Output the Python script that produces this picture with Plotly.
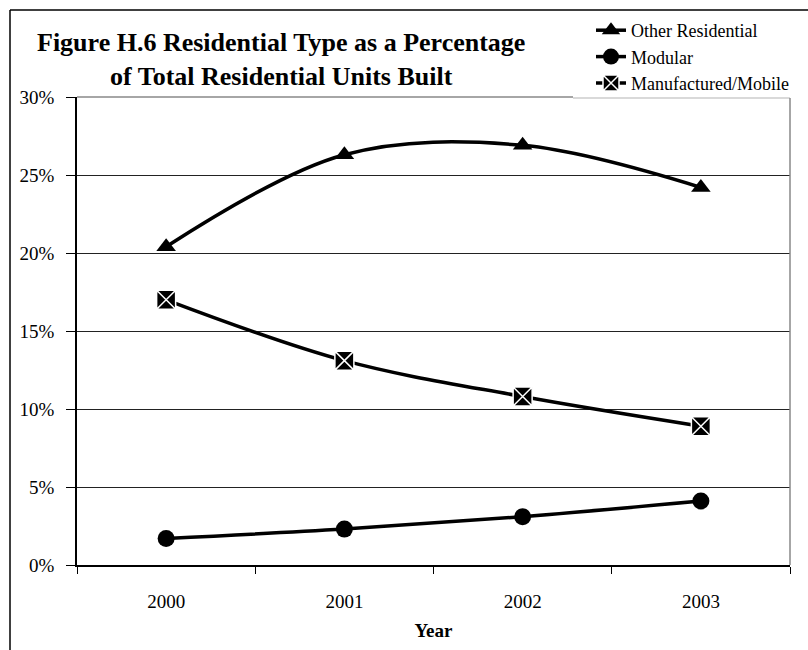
import plotly.graph_objects as go

# Chart data
years = ["2000", "2001", "2002", "2003"]
other_residential = [20.4, 26.3, 26.9, 24.2]
modular = [1.7, 2.3, 3.1, 4.1]
manufactured_mobile = [17.0, 13.1, 10.8, 8.9]
y_ticks = [0, 5, 10, 15, 20, 25, 30]
y_tick_labels = ["0%", "5%", "10%", "15%", "20%", "25%", "30%"]

W, H = 808, 650
L, R, T, B = 77, 18, 97, 85
pw, ph = W - L - R, H - T - B


def px(x):
    return (x - L) / pw


def py(y):
    return (H - B - y) / ph


FONT = "Liberation Serif"
line_style = dict(color="black", width=3.5, shape="spline", smoothing=1)

fig = go.Figure()
fig.add_trace(go.Scatter(
    x=years, y=other_residential, name="Other Residential", mode="lines+markers",
    line=line_style, marker=dict(symbol="triangle-up", size=17, color="black"),
))
fig.add_trace(go.Scatter(
    x=years, y=modular, name="Modular", mode="lines+markers",
    line=line_style, marker=dict(symbol="circle", size=17, color="black"),
))
fig.add_trace(go.Scatter(
    x=years, y=manufactured_mobile, name="Manufactured/Mobile", mode="lines+markers",
    line=line_style,
    marker=dict(symbol="square-x", size=19, color="black",
                line=dict(color="white", width=1.5)),
))

fig.update_layout(
    width=W, height=H,
    margin=dict(l=L, r=R, t=T, b=B, autoexpand=False),
    paper_bgcolor="white", plot_bgcolor="white",
    font=dict(family=FONT, color="black", size=18),
    showlegend=True,
    legend=dict(
        x=px(591), y=py(12), xanchor="left", yanchor="top",
        bgcolor="rgba(255,255,255,0)", borderwidth=0,
        font=dict(family=FONT, size=18),
        tracegroupgap=0, itemwidth=30,
    ),
    xaxis=dict(
        type="category", range=[-0.5, 3.5],
        showline=True, linecolor="black", linewidth=1.5,
        ticks="outside", tickson="boundaries", ticklen=7, tickcolor="black",
        showgrid=False,
        tickfont=dict(size=19),
        ticklabelstandoff=18,
        title=dict(text="<b>Year</b>", font=dict(size=19), standoff=13),
    ),
    yaxis=dict(
        range=[0, 30], tickvals=y_ticks, ticktext=y_tick_labels,
        showline=True, linecolor="black", linewidth=1.5,
        ticks="outside", ticklen=9, tickcolor="black",
        showgrid=True, gridcolor="#222", gridwidth=1,
        zeroline=False,
        tickfont=dict(size=19),
        ticklabelstandoff=8,
    ),
    shapes=[
        # plot area frame: top edge up to the legend panel, then its lighter lower edge
        dict(type="line", xref="paper", yref="paper", x0=0, x1=px(573), y0=1, y1=1,
             line=dict(color="#888", width=1.5)),
        dict(type="line", xref="paper", yref="paper", x0=px(573), x1=1, y0=py(98), y1=py(98),
             line=dict(color="#ccc", width=1.5)),
        dict(type="line", xref="paper", yref="paper", x0=1, x1=1, y0=0, y1=py(98),
             line=dict(color="#888", width=1.5)),
        # outer chart border
        dict(type="line", xref="paper", yref="paper",
             x0=px(10), x1=px(W + 5), y0=py(10), y1=py(10),
             line=dict(color="black", width=1.5)),
        dict(type="line", xref="paper", yref="paper",
             x0=px(10), x1=px(10), y0=py(10), y1=py(H + 5),
             line=dict(color="black", width=1.5)),
    ],
    annotations=[
        dict(text="<b>Figure H.6 Residential Type as a Percentage<br>of Total Residential Units Built</b>",
             xref="paper", yref="paper", x=px(281), y=py(26),
             xanchor="center", yanchor="top", showarrow=False, align="center",
             font=dict(family=FONT, size=26)),
    ],
)

fig.write_html("out.html", config={"displayModeBar": False})
